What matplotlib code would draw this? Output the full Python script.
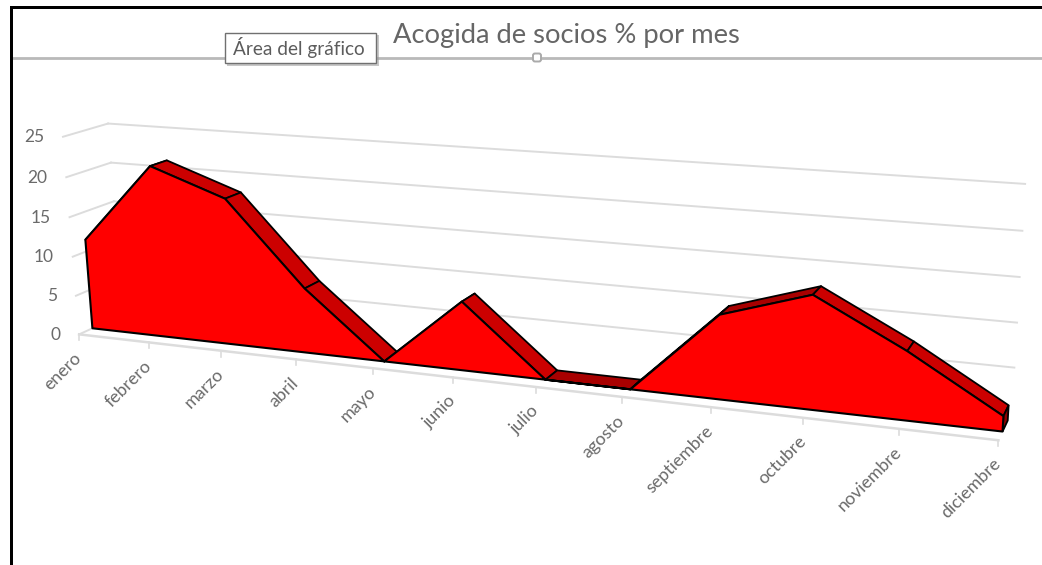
import numpy as np
import matplotlib
matplotlib.use("Agg")
import matplotlib.pyplot as plt
from matplotlib.transforms import Transform
from matplotlib.patches import Rectangle, FancyBboxPatch

plt.rcParams['font.family'] = ['Lato', 'DejaVu Sans']

# ---------- data ----------
months = ['enero', 'febrero', 'marzo', 'abril', 'mayo', 'junio', 'julio',
          'agosto', 'septiembre', 'octubre', 'noviembre', 'diciembre']
socios = [11.5, 21.5, 18.2, 8.0, 0.0, 8.3, 0.0, 0.0, 9.7, 12.9, 7.7, 1.7]
y_ticks = [0, 5, 10, 15, 20, 25]
title = 'Acogida de socios % por mes'
tooltip = 'Área del gráfico'

# ---------- 3-D view calibration: (category, value, depth) -> pixel ----------
calib = [
    ((0, 0, 0), (80, 334)), ((4, 0, 0), (373, 369)), ((8, 0, 0), (711, 409)),
    ((11, 0, 0), (999, 440)), ((0, 25, 0), (63, 136)), ((0, 25, 1), (108, 124)),
    ((0, 20, 1), (111, 163)), ((11, 25, 1), (1025, 184)), ((11, 5, 1), (1015, 367)),
    ((0, 0, .3), (92, 328)), ((4, 0, .3), (383, 361)), ((7, 0, .3), (632, 389)),
    ((11, 0, .3), (1001, 431)),
]
A = []
for (a, b, c), (u, v) in calib:
    A.append([a, b, c, 1, 0, 0, 0, 0, -u*a, -u*b, -u*c, -u])
    A.append([0, 0, 0, 0, a, b, c, 1, -v*a, -v*b, -v*c, -v])
P = np.linalg.svd(np.array(A, float))[2][-1].reshape(3, 4)


class View(Transform):
    """Projects (category, value) lying on the plane at a given depth."""
    input_dims = output_dims = 2

    def __init__(self, plane):
        super().__init__()
        self.plane = plane

    def transform_non_affine(self, xy):
        xy = np.asarray(xy, float)
        h = np.c_[xy[:, 0], xy[:, 1], np.full(len(xy), self.plane), np.ones(len(xy))]
        q = h @ P.T
        return q[:, :2] / q[:, 2:3]


fig = plt.figure(figsize=(10.42, 5.65), dpi=100, facecolor='white')
ax = fig.add_axes([0, 0, 1, 1])
ax.set_xlim(0, 1042)
ax.set_ylim(565, 0)
ax.axis('off')

FRONT, AREA_F, AREA_B, BACK = 0.0, 0.3, 0.69, 1.0
n = len(months)
last = n - 1
GRID = '#dcdcdc'
TXT = '#6a6a6a'


def on(plane):
    return View(plane) + ax.transData


def pt(i, v, d):
    return View(d).transform(np.array([[i, v]], float))[0]


# walls
for v in y_ticks:
    a, b = pt(0, v, FRONT), pt(0, v, BACK)
    ax.plot([a[0], b[0]], [a[1], b[1]], color=GRID, lw=1.4, zorder=1)
    if v > 0:
        ax.plot([0, last], [v, v], transform=on(BACK), color=GRID, lw=1.4, zorder=1)
    ax.text(a[0] - 19, a[1] + 0.5, str(v), ha='right', va='center',
            fontsize=12.5, color=TXT, zorder=5)

# floor edge, ticks and month labels
ax.plot([0, last], [0, 0], transform=on(FRONT), color=GRID, lw=1.8, zorder=1)
for i, m in enumerate(months):
    x, y = pt(i, 0, FRONT)
    ax.plot([x, x], [y, y + 6], color=GRID, lw=1.2, zorder=1)
    ax.text(x, y + 21, m, rotation=45, rotation_mode='anchor', ha='right',
            va='center', fontsize=12.8, color=TXT, zorder=5)

# top strips of the area
for i in range(last):
    x = [i, i + 1]
    y = socios[i:i + 2]
    f = View(AREA_F).transform(np.c_[x, y])
    b = View(AREA_B).transform(np.c_[x[::-1], y[::-1]])
    col = '#a80000' if y[1] >= y[0] else '#cc0000'
    ax.fill(*np.r_[f, b].T, facecolor=col, edgecolor='black', lw=1.3,
            joinstyle='round', zorder=2)

# right end cap
cap = np.r_[View(AREA_F).transform(np.array([[last, 0], [last, socios[-1]]], float)),
            View(AREA_B).transform(np.array([[last, socios[-1]], [last, 0]], float))]
ax.fill(*cap.T, facecolor='#8c0000', edgecolor='black', lw=1.3, zorder=2)

# front face of the area
xs = [0] + list(range(n)) + [last]
ys = [0] + socios + [0]
ax.fill(xs, ys, transform=on(AREA_F), facecolor='#ff0000', edgecolor='black',
        lw=1.5, joinstyle='round', zorder=3)

# ---------- screenshot furniture ----------
ax.add_patch(Rectangle((10, 6), 1032, 3, color='black', lw=0, zorder=8))
ax.add_patch(Rectangle((10, 6), 3, 559, color='black', lw=0, zorder=8))
ax.plot([13, 1042], [57.5, 57.5], color='#b9b9b9', lw=2, zorder=6)
ax.add_patch(FancyBboxPatch((533, 53.5), 8, 8, boxstyle='round,pad=0,rounding_size=2',
                            facecolor='white', edgecolor='#aaaaaa', lw=1.4, zorder=7))
ax.text(393, 35.5, title, ha='left', va='center', fontsize=19.7, color='#666666', zorder=7)

ax.add_patch(Rectangle((227, 35), 152, 31, facecolor='#9a9a9a', lw=0, alpha=.55, zorder=7))
ax.add_patch(Rectangle((224.5, 32.5), 151, 30, facecolor='white', edgecolor='#707070',
                       lw=1, zorder=8))
ax.text(299, 48, tooltip, ha='center', va='center', fontsize=13.7, color='#5c5c5c', zorder=9)

fig.savefig('out.png', dpi=100)
